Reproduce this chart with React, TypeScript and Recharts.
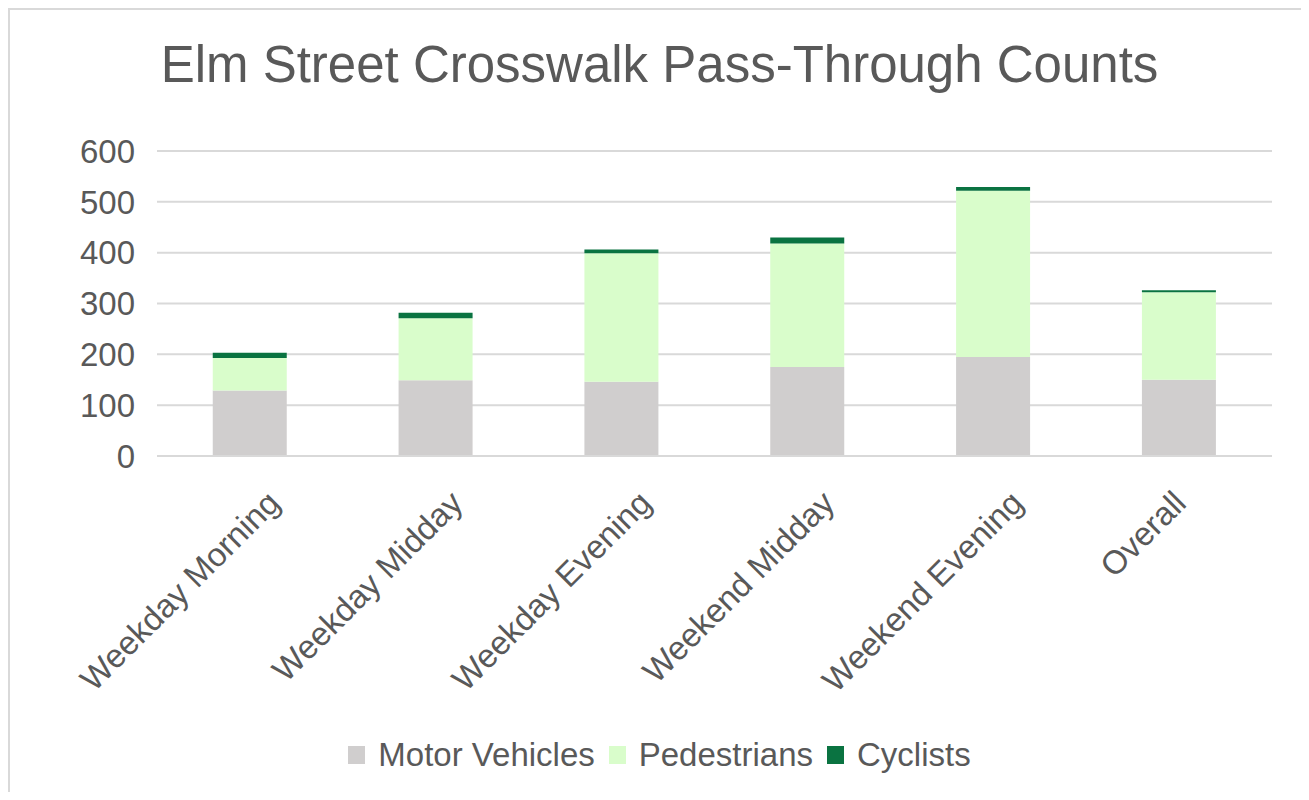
import React from "react";
import { BarChart, Bar, XAxis, YAxis, CartesianGrid, Legend } from "recharts";

const categories = [
  "Weekday Morning",
  "Weekday Midday",
  "Weekday Evening",
  "Weekend Midday",
  "Weekend Evening",
  "Overall",
];
const motorVehicles = [129, 149, 146, 175, 195, 150];
const pedestrians = [64, 122, 253, 243, 327, 172];
const cyclists = [10, 11, 7, 12, 7, 4];
const yTicks = [0, 100, 200, 300, 400, 500, 600];
const seriesNames = ["Motor Vehicles", "Pedestrians", "Cyclists"];

const data = categories.map((name, i) => ({
  name,
  motor: motorVehicles[i],
  ped: pedestrians[i],
  cyc: cyclists[i],
}));

const FONT = "'Liberation Sans', Arial, Helvetica, sans-serif";
const TEXT = "#595959";

const XTick = (props: any) => {
  const { x, y, payload } = props;
  const label = String(payload.value);
  const ax = x - 11 + 2.85 * label.length;
  const ay = y + 41;
  return (
    <text
      x={ax}
      y={ay}
      textAnchor="end"
      fill={TEXT}
      fontSize={33}
      fontFamily={FONT}
      transform={`rotate(-45, ${ax}, ${ay})`}
    >
      {label}
    </text>
  );
};

const LegendContent = (props: any) => {
  const payload = [...(props.payload || [])].sort(
    (a: any, b: any) => seriesNames.indexOf(a.value) - seriesNames.indexOf(b.value)
  );
  return (
    <div
      style={{
        display: "flex",
        justifyContent: "center",
        alignItems: "center",
        height: 37,
        fontFamily: FONT,
        fontSize: 33,
        color: TEXT,
        whiteSpace: "nowrap",
      }}
    >
      {payload.map((p: any, i: number) => (
        <span
          key={i}
          style={{ display: "inline-flex", alignItems: "center", marginRight: i < payload.length - 1 ? 14 : 0 }}
        >
          <span style={{ display: "inline-block", width: 17, height: 18, background: p.color, marginRight: 13 }} />
          <span>{p.value}</span>
        </span>
      ))}
    </div>
  );
};

export default function App() {
  return (
    <div
      style={{
        position: "relative",
        width: 1299,
        height: 782,
        borderLeft: "2px solid #d9d9d9",
        borderTop: "2px solid #d9d9d9",
        background: "#fff",
        fontFamily: FONT,
      }}
    >
      <div
        style={{
          position: "absolute",
          left: 0,
          top: 25,
          width: 1299,
          textAlign: "center",
          fontSize: 51,
          color: TEXT,
          fontFamily: FONT,
          lineHeight: "60px",
          zIndex: 1,
        }}
      >
        Elm Street Crosswalk Pass-Through Counts
      </div>
      <BarChart
        width={1299}
        height={782}
        data={data}
        margin={{ top: 141, right: 37, left: 67, bottom: 19 }}
        barCategoryGap="30%"
      >
        <CartesianGrid vertical={false} stroke="#d9d9d9" strokeWidth={2} />
        <XAxis
          dataKey="name"
          height={280}
          interval={0}
          axisLine={{ stroke: "#d9d9d9", strokeWidth: 2 }}
          tickLine={false}
          tick={<XTick />}
        />
        <YAxis
          width={80}
          domain={[0, 600]}
          ticks={yTicks}
          axisLine={false}
          tickLine={false}
          tickMargin={16}
          tick={{ fill: TEXT, fontSize: 33, fontFamily: FONT }}
        />
        <Legend
          verticalAlign="bottom"
          align="center"
          wrapperStyle={{ height: 37, left: 0, width: 1299 }}
          content={<LegendContent />}
        />
        <Bar dataKey="motor" name="Motor Vehicles" stackId="a" fill="#d0cece" isAnimationActive={false} />
        <Bar dataKey="ped" name="Pedestrians" stackId="a" fill="#d9fdcb" isAnimationActive={false} />
        <Bar dataKey="cyc" name="Cyclists" stackId="a" fill="#0a7341" isAnimationActive={false} />
      </BarChart>
    </div>
  );
}
